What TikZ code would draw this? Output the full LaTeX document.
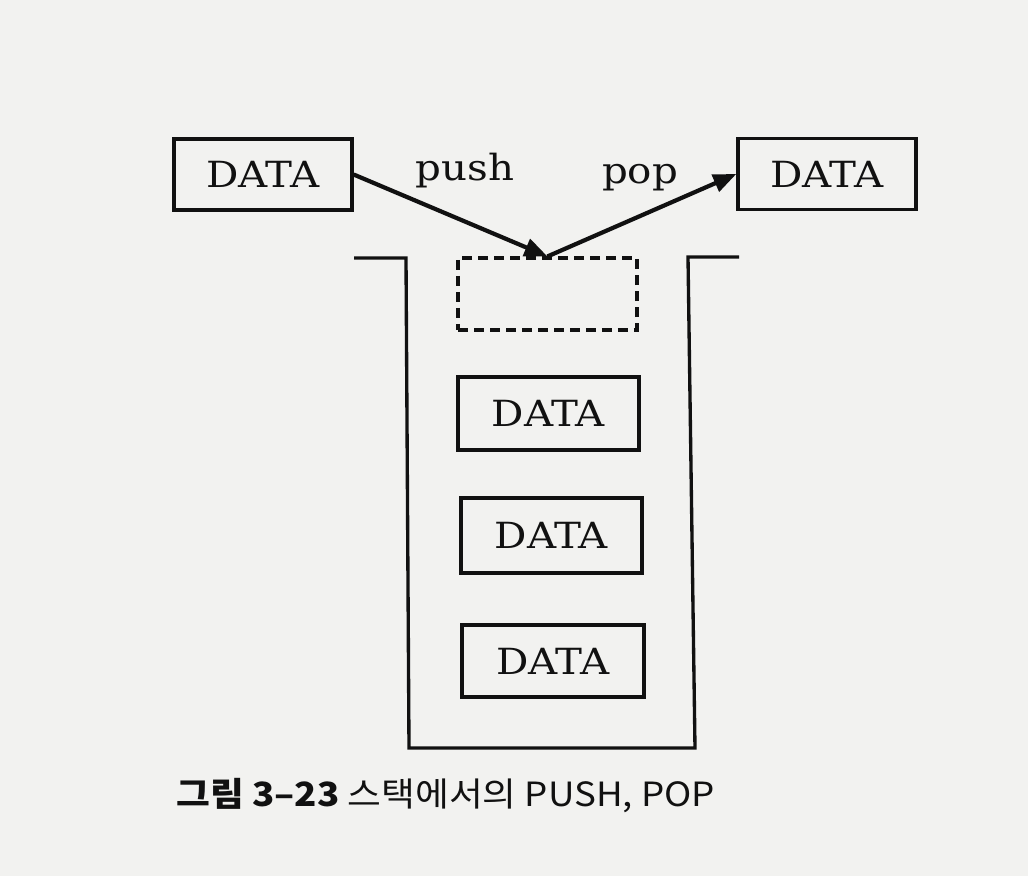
\documentclass[tikz,border=0pt]{standalone}
\usepackage{fontspec}
\setmainfont{DejaVu Serif}
\newfontfamily\kr{Noto Sans CJK KR}
\usetikzlibrary{arrows.meta}
\definecolor{paper}{HTML}{F2F2F0}
\definecolor{ink}{HTML}{111111}
\newcommand{\wide}[1]{\scalebox{1.12}[1]{#1}}
\tikzset{
  databox/.style={draw=ink, line width=1.9pt, minimum width=3.56cm, minimum height=1.42cm, inner sep=0pt, font=\fontsize{20.5}{24}\selectfont, text=ink},
  slotbox/.style={draw=ink, line width=1.8pt, dash pattern=on 0.2cm off 0.12cm, minimum width=3.58cm, minimum height=1.44cm, inner sep=0pt},
  arr/.style={draw=ink, line width=2.4pt, -{Triangle[length=0.46cm,width=0.36cm]}},
  lbl/.style={font=\fontsize{20.5}{24}\selectfont, text=ink, inner sep=0pt},
  wall/.style={draw=ink, line width=1.9pt, line join=miter}
}
\begin{document}
\begin{tikzpicture}[x=0.02cm, y=-0.02cm]
\fill[paper] (0,0) rectangle (1028,876);
\useasboundingbox (0,0) rectangle (1028,876);
% top boxes
\node[databox] (dl) at (263,174.5) {\wide{DATA}};
\node[databox] (dr) at (827,174) {\wide{DATA}};
% slot (dashed)
\node[slotbox] (slot) at (547.5,294) {};
% stack items
\node[databox, minimum width=3.62cm, minimum height=1.46cm] (s1) at (548.5,413.5) {\wide{DATA}};
\node[databox, minimum width=3.62cm, minimum height=1.5cm] (s2) at (551.5,535.5) {\wide{DATA}};
\node[databox, minimum width=3.64cm, minimum height=1.44cm] (s3) at (553,661) {\wide{DATA}};
% container
\coordinate (cl) at (354,258);
\coordinate (cr) at (739,257);
\draw[wall] (cl) -- (406,258) -- (409,748) -- (695,748) -- (688,257) -- (cr);
% arrows
\draw[arr] (dl.east) -- (slot.north);
\draw[arr] (slot.north) -- (dr.west);
\node[lbl, anchor=base] (push) at (465,180) {\wide{push}};
\node[lbl, anchor=base] (pop) at (640,183) {\wide{pop}};
% caption
\node[anchor=base west, inner sep=0pt, font=\kr\fontsize{19}{22}\selectfont, text=ink] (cap) at (176,806) {\scalebox{1.1}[1]{{\bfseries 그림 3–23} 스택에서의 PUSH, POP}};
\end{tikzpicture}
\end{document}
